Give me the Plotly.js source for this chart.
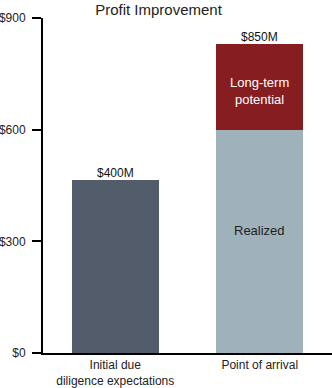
<!DOCTYPE html>
<html>
<head>
<meta charset="utf-8">
<script src="https://cdn.plot.ly/plotly-3.0.1.min.js"></script>
<style>html,body{margin:0;padding:0;background:#fff;}#chart{width:332px;height:388px;}</style>
</head>
<body>
<div id="chart"></div>
<script>
// Data
const categories = ["Initial due<br>diligence expectations", "Point of arrival"];
const initialValues = [465];        // drawn height of first bar
const realizedValues = [600];       // lower segment of second bar
const longTermValues = [230];       // upper segment of second bar
const totalLabels = ["$400M", "$850M"];
const segmentLabels = ["Long-term<br>potential", "Realized"];
const yTicks = [0, 300, 600, 900];

const font = "Liberation Sans, Arial, sans-serif";
const colors = {initial: "#525c6b", realized: "#9fb2bc", longterm: "#861d20"};

const traces = [
  {type: "bar", x: [categories[0]], y: initialValues, marker: {color: colors.initial}, hoverinfo: "none"},
  {type: "bar", x: [categories[1]], y: realizedValues, marker: {color: colors.realized}, hoverinfo: "none"},
  {type: "bar", x: [categories[1]], y: longTermValues, marker: {color: colors.longterm}, hoverinfo: "none"}
];

const totals = [initialValues[0], realizedValues[0] + longTermValues[0]];
const annotations = [];
totals.forEach((t, i) => {
  annotations.push({x: categories[i], y: t, xref: "x", yref: "y", text: totalLabels[i],
    showarrow: false, yanchor: "bottom", yshift: -2, font: {family: font, size: 12, color: "#111"}});
});
annotations.push({x: categories[1], y: realizedValues[0] + longTermValues[0] * 0.45, xref: "x", yref: "y",
  text: segmentLabels[0], showarrow: false, font: {family: font, size: 13, color: "#ffffff"}});
annotations.push({x: categories[1], y: realizedValues[0] * 0.55, xref: "x", yref: "y",
  text: segmentLabels[1], showarrow: false, font: {family: font, size: 13, color: "#222"}});

const layout = {
  width: 332, height: 388,
  margin: {l: 43, r: 0, t: 18, b: 35, pad: 0},
  paper_bgcolor: "#fff", plot_bgcolor: "#fff",
  showlegend: false,
  barmode: "stack",
  bargap: 0.4,
  title: {text: "Profit Improvement", x: 158.5 / 332, xanchor: "center", xref: "container",
    y: 1 - 9.5 / 388, yanchor: "middle", yref: "container", font: {family: font, size: 15, color: "#222"}},
  font: {family: font, size: 12, color: "#222"},
  xaxis: {type: "category", showline: true, linecolor: "#000", linewidth: 2, ticks: "",
    showgrid: false, zeroline: false, tickfont: {family: font, size: 12, color: "#222"}, fixedrange: true},
  yaxis: {range: [0, 900], tickvals: yTicks, ticktext: yTicks.map(v => "$" + v), showline: true,
    linecolor: "#000", linewidth: 2, ticks: "outside", ticklen: 9, tickwidth: 2, tickcolor: "#000",
    showgrid: false, zeroline: false, ticklabelstandoff: 4,
    tickfont: {family: font, size: 12, color: "#222"}, fixedrange: true},
  annotations: annotations
};

Plotly.newPlot("chart", traces, layout, {staticPlot: true, displayModeBar: false});
</script>
</body>
</html>
